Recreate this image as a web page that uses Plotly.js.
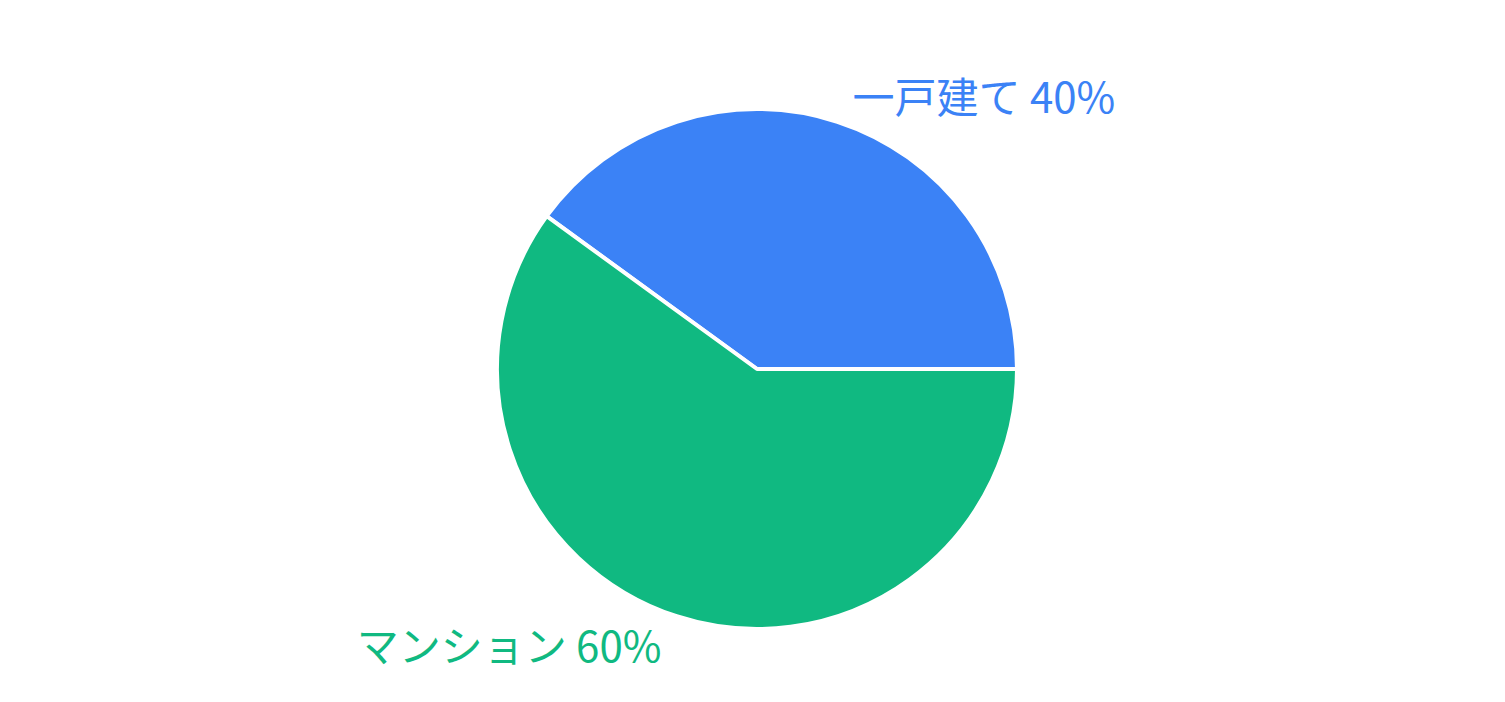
<!DOCTYPE html>
<html>
<head>
<meta charset="utf-8">
<script src="https://cdn.plot.ly/plotly-3.0.1.min.js"></script>
<style>
  html, body { margin: 0; padding: 0; background: #fff; }
  #chart { width: 1505px; height: 702px; }
</style>
</head>
<body>
<div id="chart"></div>
<script>
// 住宅タイプの割合
const labels = ['一戸建て', 'マンション'];
const values = [40, 60];
const colors = ['#3B82F6', '#10B981'];

const data = [{
  type: 'pie',
  labels: labels,
  values: values,
  sort: false,
  direction: 'clockwise',
  rotation: -54,
  marker: { colors: colors, line: { color: '#ffffff', width: 4 } },
  texttemplate: '%{label} %{percent}',
  textposition: 'outside',
  outsidetextfont: { color: colors, size: 42 },
  hoverinfo: 'label+percent'
}];

const layout = {
  width: 1505,
  height: 702,
  showlegend: false,
  margin: { l: 89, r: 80, t: 109, b: 73 },
  font: { family: '"Noto Sans CJK JP", "Noto Sans", sans-serif', size: 42 },
  paper_bgcolor: '#ffffff',
  plot_bgcolor: '#ffffff'
};

Plotly.newPlot('chart', data, layout, { displayModeBar: false, staticPlot: true });
</script>
</body>
</html>
